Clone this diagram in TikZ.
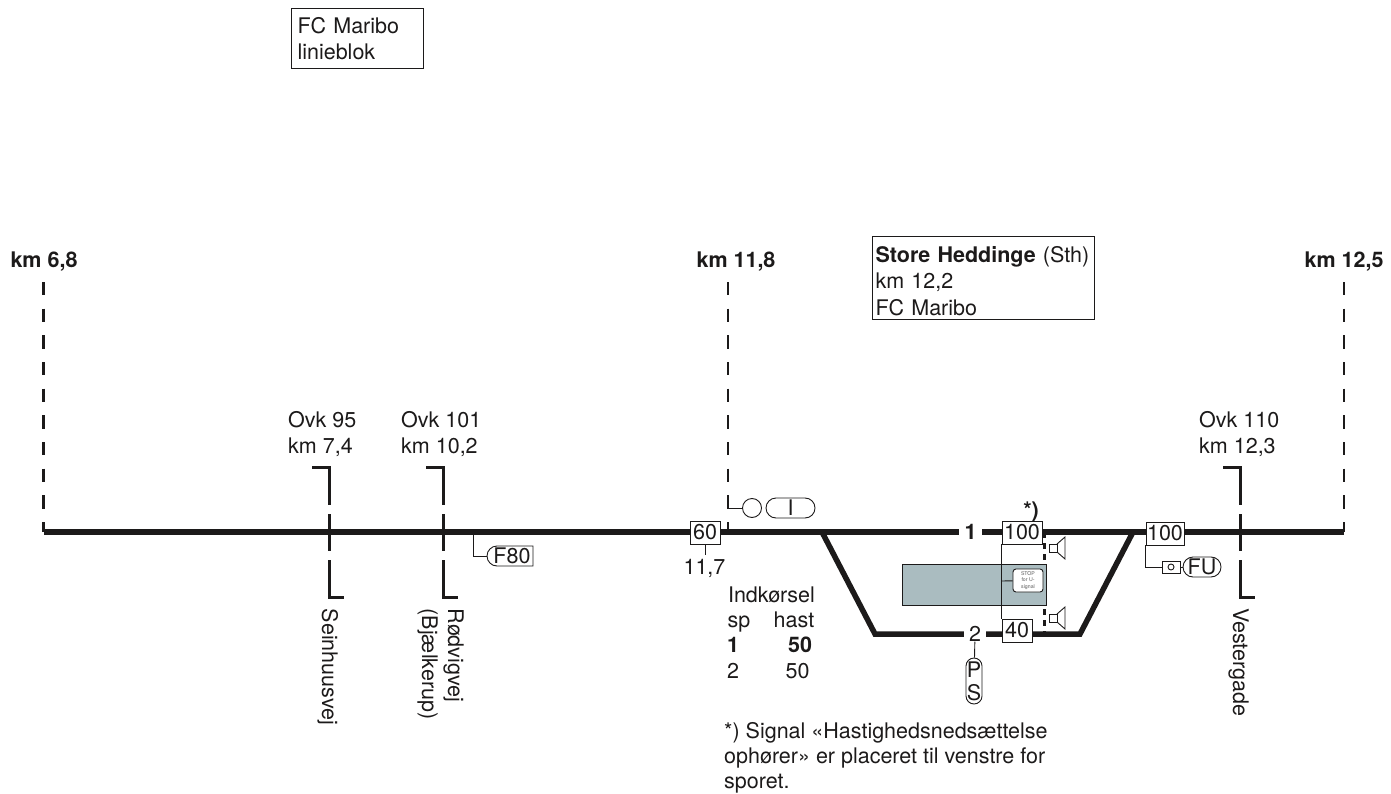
\documentclass[tikz,border=0pt]{standalone}
\usepackage{fontspec}
\setmainfont{TeX Gyre Heros}
\usetikzlibrary{shapes.misc}
\definecolor{sort}{HTML}{1C1A1A}
\definecolor{graa}{HTML}{AABCC0}
\tikzset{etq/.style={font=\fontsize{21.5}{22}\selectfont, text=sort, inner sep=0pt},
  tal/.style={etq, text height=15pt, text depth=0pt},
  fed/.style={tal, font=\fontsize{21.5}{22}\selectfont\bfseries},
  spor/.style={line width=5.5pt, color=sort},
  kmstreg/.style={line width=2.6pt, color=sort, dash pattern=on 13.3pt off 13.37pt},
  ovk/.style={line width=3pt, color=sort},
  tynd/.style={line width=0.9pt, color=sort},
  boks/.style={etq, draw=sort, line width=0.9pt, fill=white, minimum height=23pt},
  pille/.style={etq, draw=sort, line width=0.9pt, fill=white, rounded rectangle, minimum height=20pt},
  ramme/.style={etq, draw=sort, line width=1.1pt, fill=white, anchor=north west, align=left},
  vej/.style={etq, rotate=-90, anchor=west, text height=15.5pt, text depth=4.5pt},
  ovktekst/.style={etq, anchor=west, align=left, font=\fontsize{21.5}{26}\selectfont},
  hoejttaler/.pic={\draw[tynd, fill=white] (0,-4) rectangle (8,4);
    \draw[tynd] (8,-4) -- (16,-11) -- (16,11) -- (8,4);}}
\begin{document}
\begin{tikzpicture}[x=1pt, y=-1pt]
  \useasboundingbox (0,0) rectangle (1391,794);
  % tekstbokse
  \node[ramme, inner xsep=6pt, text width=120pt, minimum height=60pt, font=\fontsize{21.5}{26}\selectfont] (linieblok) at (291,8) {FC Maribo\\linieblok};
  \node[ramme, inner xsep=3pt, text width=216pt, minimum height=83pt, font=\fontsize{21.5}{26.5}\selectfont] (station) at (872,236) {\rule{0pt}{22pt}\textbf{Store Heddinge} (Sth)\\km 12,2\\FC Maribo};
  % km-graenser
  \foreach \navn/\x/\tekst/\lx in {a/43.5/{km 6,8}/44, b/728/{km 11,8}/736, c/1344/{km 12,5}/1344}{
    \node[fed] (km\navn) at (\lx,260.5) {\tekst};
    \coordinate (top\navn) at (\x,282);
    \coordinate (bund\navn) at (\x,532);
    \draw[kmstreg] (top\navn) -- (bund\navn);
  }
  % spor
  \coordinate (sv1) at (822,532);
  \coordinate (sv2) at (875,634);
  \coordinate (sv3) at (1080,634);
  \coordinate (sv4) at (1133,532);
  \draw[spor] (bunda) -- (bundc);
  \draw[spor, line join=miter] (sv1) -- (sv2) -- (sv3) -- (sv4);
  % overkoersler
  \foreach \navn/\x in {p/329, q/443, r/1240}{
    \coordinate (ov\navn) at (\x-17,467);
    \coordinate (ot\navn) at (\x,467);
    \coordinate (ob\navn) at (\x,505);
    \coordinate (mt\navn) at (\x,514);
    \coordinate (mb\navn) at (\x,551);
    \coordinate (nt\navn) at (\x,560);
    \coordinate (nb\navn) at (\x,597);
    \coordinate (nh\navn) at (\x+15,597);
    \draw[ovk] (ov\navn) -- (ot\navn) -- (ob\navn);
    \draw[ovk] (mt\navn) -- (mb\navn);
    \draw[ovk] (nt\navn) -- (nb\navn) -- (nh\navn);
  }
  \node[ovktekst] (ovk95) at (288,434) {Ovk 95\\km 7,4};
  \node[ovktekst] (ovk101) at (401,434) {Ovk 101\\km 10,2};
  \node[ovktekst] (ovk110) at (1199,434) {Ovk 110\\km 12,3};
  \node[vej] (seinhuus) at (327.5,608.5) {Seinhuusvej};
  \node[vej] (roedvig) at (453.5,608.5) {Rødvigvej};
  \node[vej] (bjaelke) at (427.5,608.5) {(Bjælkerup)};
  \node[vej] (vester) at (1238.5,608) {Vestergade};
  % F80
  \node[pille, rounded rectangle east arc=none, minimum width=46pt] (f80) at (512,556) {F80};
  \coordinate (f80a) at (473.5,532);
  \draw[tynd] (f80a) |- (f80);
  % 60
  \node[boks, minimum width=30pt] (h60) at (705,532.5) {60};
  \node[tal] (km117) at (704.5,566.5) {11,7};
  \coordinate (h60u) at (705,555);
  \draw[tynd] (h60) -- (h60u);
  % signal I
  \coordinate (sigI) at (728,508);
  \node[draw=sort, line width=0.9pt, circle, minimum size=19pt, inner sep=0pt] (lampe) at (752,508) {};
  \node[pille, minimum width=49pt] (pilleI) at (790.5,508) {I};
  \draw[tynd] (sigI) -- (lampe);
  % perron
  \draw[kmstreg, line width=3pt, dash pattern=on 6pt off 5pt] (1044,532) -- (1044,634);
  \node[draw=sort, line width=1pt, fill=graa, minimum width=144pt, minimum height=41pt, inner sep=0pt] (perron) at (974,584.5) {};
  \node[etq, draw=sort, line width=0.9pt, fill=white, rounded corners=3pt, minimum width=30pt, minimum height=23pt, align=center, font=\fontsize{5.2}{6.8}\selectfont, text=black!65] (stop) at (1028,580.5) {STOP\\for U-\\signal};
  % hastigheder ved station
  \node[fed, fill=white, inner xsep=5.5pt] (spor1) at (970.5,532) {1};
  \node[tal, fill=white, inner xsep=5.5pt] (spor2) at (975,634) {2};
  \node[boks, minimum width=40pt] (h100a) at (1022,532.5) {100};
  \node[boks, minimum width=30pt] (h40) at (1017,630.5) {40};
  \node[fed] (fodn) at (1031,509.5) {*)};
  \coordinate (lodret) at (1002,581);
  \draw[tynd] (h100a.south west) -- (h40.north west);
  \draw[tynd] (lodret) -- (stop);
  \pic at (1049,548) {hoejttaler};
  \pic at (1049,618) {hoejttaler};
  % PS
  \node[etq, draw=sort, line width=0.9pt, fill=white, rounded rectangle, rotate=90, minimum width=46pt, minimum height=16pt] (ps) at (974,681) {};
  \node[etq] (psP) at (974,670) {P};
  \node[etq] (psS) at (974,692.5) {S};
  \draw[tynd] (spor2) -- (ps);
  % 100 FU
  \node[boks, minimum width=38pt] (h100b) at (1165,533.5) {100};
  \node[draw=sort, line width=0.9pt, fill=white, minimum width=18pt, minimum height=12pt, inner sep=0pt] (fuboks) at (1171,567) {};
  \node[draw=sort, line width=0.9pt, circle, minimum size=6pt, inner sep=0pt] (fulampe) at (1171,567) {};
  \node[pille, minimum width=38pt] (fu) at (1202,567) {FU};
  \draw[tynd] (h100b.south west) |- (fuboks);
  \draw[tynd] (fuboks) -- (fu);
  % indkoersel
  \node[tal] (indk) at (771.5,594.5) {Indkørsel};
  \node[tal] (sp) at (739,619.5) {sp};
  \node[tal] (hast) at (794,619.5) {hast};
  \node[fed] (r1a) at (733,644.5) {1};
  \node[fed] (r1b) at (800,644.5) {50};
  \node[tal] (r2a) at (733,670.5) {2};
  \node[tal] (r2b) at (797.5,670.5) {50};
  % fodnote
  \node[etq, anchor=north west, align=left, font=\fontsize{21.5}{25}\selectfont] (note) at (724,722) {*) Signal «Hastighedsnedsættelse\\ophører» er placeret til venstre for\\sporet.};
\end{tikzpicture}
\end{document}
